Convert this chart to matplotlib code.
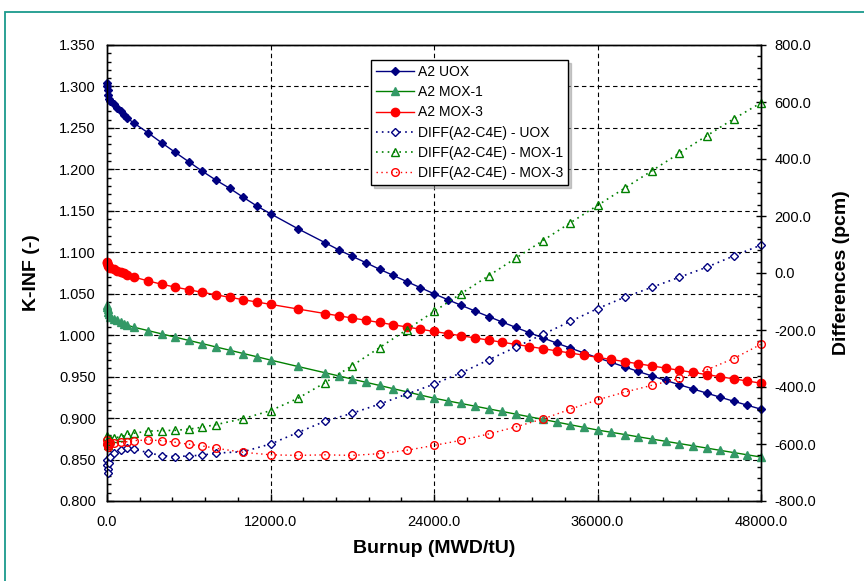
import matplotlib
matplotlib.use("Agg")
import matplotlib.pyplot as plt
from matplotlib.patches import Rectangle
from matplotlib.ticker import MultipleLocator, FormatStrFormatter

plt.rcParams['font.family'] = ['Liberation Sans', 'DejaVu Sans']

# burnup steps of the K-INF depletion (MWd/tU)
bu_k = [0, 9.37, 37.5, 75, 150, 250, 500, 750, 1000, 1250, 1500,
        2000, 3000, 4000, 5000, 6000, 7000, 8000, 9000, 10000, 11000, 12000,
        14000, 16000, 17000, 18000, 19000, 20000, 21000, 22000, 23000, 24000,
        25000, 26000, 27000, 28000, 29000, 30000, 31000, 32000, 33000, 34000,
        35000, 36000, 37000, 38000, 39000, 40000, 41000, 42000, 43000, 44000,
        45000, 46000, 47000, 48000]

kinf_uox = [1.3040, 1.3010, 1.2960, 1.2900, 1.2850, 1.2830, 1.2790, 1.2745, 1.2700, 1.2660, 1.2615,
            1.2556, 1.2442, 1.2322, 1.2206, 1.2092, 1.1977, 1.1870, 1.1772, 1.1663, 1.1558, 1.1465,
            1.1285, 1.1116, 1.1030, 1.0951, 1.0875, 1.0795, 1.0722, 1.0647, 1.0573, 1.0500,
            1.0429, 1.0360, 1.0292, 1.0225, 1.0159, 1.0094, 1.0030, 0.9967, 0.9905, 0.9845,
            0.9786, 0.9728, 0.9673, 0.9617, 0.9562, 0.9508, 0.9455, 0.9403, 0.9352, 0.9302,
            0.9252, 0.9203, 0.9155, 0.9107]

kinf_mox1 = [1.0370, 1.0340, 1.0310, 1.0280, 1.0250, 1.0225, 1.0200, 1.0180, 1.0160, 1.0140, 1.0120,
             1.0095, 1.0056, 1.0016, 0.9977, 0.9937, 0.9898, 0.9858, 0.9819, 0.9779, 0.9740, 0.9700,
             0.9623, 0.9547, 0.9509, 0.9470, 0.9432, 0.9394, 0.9355, 0.9317, 0.9278, 0.9240,
             0.9208, 0.9176, 0.9144, 0.9112, 0.9080, 0.9048, 0.9016, 0.8984, 0.8952, 0.8920,
             0.8888, 0.8856, 0.8829, 0.8802, 0.8774, 0.8747, 0.8720, 0.8693, 0.8666, 0.8639,
             0.8611, 0.8584, 0.8557, 0.8530]

kinf_mox3 = [1.0885, 1.0870, 1.0850, 1.0835, 1.0822, 1.0812, 1.0795, 1.0780, 1.0765, 1.0745, 1.0730,
             1.0700, 1.0655, 1.0615, 1.0580, 1.0548, 1.0517, 1.0487, 1.0457, 1.0428, 1.0400, 1.0372,
             1.0316, 1.0261, 1.0234, 1.0207, 1.0180, 1.0153, 1.0126, 1.0099, 1.0072, 1.0045,
             1.0019, 0.9993, 0.9967, 0.9941, 0.9915, 0.9889, 0.9863, 0.9837, 0.9811, 0.9785,
             0.9759, 0.9733, 0.9707, 0.9681, 0.9655, 0.9629, 0.9603, 0.9577, 0.9551, 0.9525,
             0.9499, 0.9473, 0.9447, 0.9421]

# burnup steps where A2 and C4E are compared
bu_d = [0, 9.37, 37.5, 75, 150, 250, 500, 1000, 1500, 2000, 3000, 4000, 5000, 6000,
        7000, 8000, 10000, 12000, 14000, 16000, 18000, 20000, 22000, 24000, 26000,
        28000, 30000, 32000, 34000, 36000, 38000, 40000, 42000, 44000, 46000, 48000]

diff_uox = [-655, -672, -688, -700, -668, -645, -630, -622, -615, -619, -630, -641, -644, -642,
            -639, -632, -627, -600, -560, -520, -492, -460, -425, -390, -350,
            -305, -260, -215, -170, -125, -85, -50, -15, 20, 60, 98]

diff_mox1 = [-572, -590, -605, -598, -588, -582, -578, -575, -566, -562, -555, -553, -552, -548,
             -541, -532, -511, -483, -440, -385, -325, -262, -199, -135, -72,
             -10, 52, 114, 176, 237, 298, 359, 420, 481, 541, 597]

diff_mox3 = [-585, -600, -612, -605, -598, -596, -596, -594, -592, -588, -586, -588, -594, -601,
             -607, -615, -629, -638, -640, -638, -640, -634, -622, -605, -587,
             -565, -540, -512, -478, -445, -418, -394, -370, -340, -300, -250]

NAVY = '#000080'
GREEN = '#008000'
SEA = '#339966'
RED = '#ff0000'

fig = plt.figure(figsize=(8.64, 5.81), dpi=100)
# teal frame around the figure
fig.patches.append(Rectangle((5 / 864, -0.2), 1.2, 1 - 12 / 581 + 0.2, transform=fig.transFigure,
                             fill=False, edgecolor='#1a9a8c', linewidth=1.3))

ax = fig.add_axes([107 / 864, 1 - 501 / 581, 654 / 864, 456 / 581])
ax2 = ax.twinx()

ax.plot(bu_k, kinf_uox, color=NAVY, lw=1, marker='D', ms=4.3, mfc=NAVY, mec=NAVY,
        label='A2 UOX', clip_on=False, zorder=3)
ax.plot(bu_k, kinf_mox1, color=GREEN, lw=1, marker='^', ms=5.5, mfc=SEA, mec=SEA,
        label='A2 MOX-1', clip_on=False, zorder=3)
ax.plot(bu_k, kinf_mox3, color=RED, lw=1, marker='o', ms=6, mfc=RED, mec=RED,
        label='A2 MOX-3', clip_on=False, zorder=3)

ax2.plot(bu_d, diff_uox, color=NAVY, lw=1.2, ls=(0, (1, 2.5)), marker='D', ms=4, mfc='white',
         mec=NAVY, mew=1, label='DIFF(A2-C4E) - UOX', clip_on=False)
ax2.plot(bu_d, diff_mox1, color=GREEN, lw=1.2, ls=(0, (1, 2.5)), marker='^', ms=5.5, mfc='none',
         mec=GREEN, mew=1, label='DIFF(A2-C4E) - MOX-1', clip_on=False)
ax2.plot(bu_d, diff_mox3, color=RED, lw=1, ls=(0, (1, 2.5)), marker='o', ms=5.5, mfc='none',
         mec=RED, mew=1, label='DIFF(A2-C4E) - MOX-3', clip_on=False)

ax.set_xlim(0, 48000)
ax.set_ylim(0.8, 1.35)
ax2.set_ylim(-800, 800)

ax.xaxis.set_major_locator(MultipleLocator(12000))
ax.xaxis.set_minor_locator(MultipleLocator(2400))
ax.xaxis.set_major_formatter(FormatStrFormatter('%.1f'))
ax.yaxis.set_major_locator(MultipleLocator(0.05))
ax.yaxis.set_minor_locator(MultipleLocator(0.01))
ax.yaxis.set_major_formatter(FormatStrFormatter('%.3f'))
ax2.yaxis.set_major_locator(MultipleLocator(200))
ax2.yaxis.set_minor_locator(MultipleLocator(40))
ax2.yaxis.set_major_formatter(FormatStrFormatter('%.1f'))

ax.tick_params(axis='x', which='major', direction='in', length=5, width=1, pad=10, labelsize=10.5)
ax.tick_params(axis='x', which='minor', direction='in', length=3, width=1)
ax.tick_params(axis='y', which='major', direction='in', length=5, width=1, pad=8, labelsize=10.5)
ax.tick_params(axis='y', which='minor', direction='in', length=3, width=1)
ax2.tick_params(axis='y', which='major', direction='inout', length=7, width=1, pad=6, labelsize=10.5)
ax2.tick_params(axis='y', which='minor', direction='in', length=3, width=1)

ax.grid(True, which='major', color='black', ls=(0, (4, 3)), lw=0.8)
ax.set_axisbelow(True)
for a in (ax, ax2):
    for s in a.spines.values():
        s.set_linewidth(1)

ax.set_xlabel('Burnup (MWD/tU)', fontsize=14, fontweight='bold', labelpad=8)
ax.set_ylabel('K-INF (-)', fontsize=14, fontweight='bold', labelpad=14)
ax2.set_ylabel('Differences (pcm)', fontsize=14, fontweight='bold', labelpad=12)

h1, l1 = ax.get_legend_handles_labels()
h2, l2 = ax2.get_legend_handles_labels()
leg = ax2.legend(h1 + h2, l1 + l2, loc='upper left', bbox_to_anchor=(0.404, 0.967),
                 fontsize=10, frameon=True, fancybox=False, framealpha=1, edgecolor='black',
                 shadow={'color': '0.6'}, handlelength=2.7, handletextpad=0.3,
                 labelspacing=0.45, borderpad=0.35, borderaxespad=0)
leg.get_frame().set_linewidth(1)

fig.savefig('out.png', dpi=100)
